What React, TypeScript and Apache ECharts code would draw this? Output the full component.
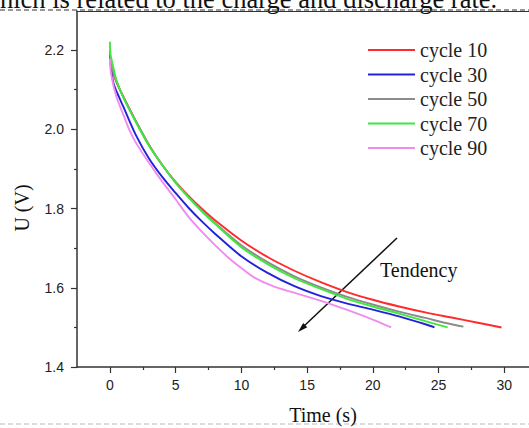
import React, { useEffect, useRef } from "react";
import * as echarts from "echarts";

const seriesNames = ["cycle 10", "cycle 30", "cycle 50", "cycle 70", "cycle 90"];
const seriesColors = ["#ff2a2a", "#2222dd", "#8c8c8c", "#3ee83e", "#f08cf0"];

const c10T = [0, 0.1, 0.5, 1, 2, 3, 4, 5, 6, 7, 8, 10, 12, 14, 16, 18, 20, 22, 24, 26, 28, 29.8];
const c10V = [2.19, 2.16, 2.12, 2.085, 2.02, 1.96, 1.91, 1.868, 1.832, 1.8, 1.771, 1.72, 1.678, 1.644, 1.615, 1.59, 1.57, 1.553, 1.538, 1.525, 1.512, 1.5];

const c30T = [0, 0.1, 0.3, 0.7, 1, 2, 3, 4, 5, 6, 7, 8, 10, 12, 14, 16, 18, 20, 22, 24, 24.7];
const c30V = [2.19, 2.15, 2.115, 2.082, 2.06, 1.985, 1.926, 1.88, 1.84, 1.802, 1.768, 1.737, 1.68, 1.638, 1.605, 1.58, 1.561, 1.545, 1.528, 1.508, 1.5];

const c50T = [0, 0.1, 0.5, 1, 2, 3, 4, 5, 6, 7, 8, 10, 12, 14, 16, 18, 20, 22, 24, 26, 26.9];
const c50V = [2.2, 2.165, 2.123, 2.085, 2.02, 1.96, 1.91, 1.866, 1.829, 1.795, 1.764, 1.708, 1.665, 1.63, 1.602, 1.578, 1.558, 1.54, 1.524, 1.508, 1.502];

const c70T = [0, 0.05, 0.2, 0.5, 1, 2, 3, 4, 5, 6, 7, 8, 10, 12, 14, 16, 18, 20, 22, 24, 25.7];
const c70V = [2.222, 2.19, 2.167, 2.125, 2.083, 2.018, 1.958, 1.91, 1.866, 1.828, 1.793, 1.762, 1.703, 1.66, 1.625, 1.598, 1.573, 1.553, 1.535, 1.516, 1.5];

const c90T = [0, 0.1, 0.5, 1, 1.5, 2, 3, 4, 5, 6, 7, 8, 9, 10, 11, 12.5, 14, 16, 18, 20, 21.4];
const c90V = [2.18, 2.14, 2.083, 2.04, 1.998, 1.966, 1.915, 1.868, 1.824, 1.779, 1.742, 1.708, 1.677, 1.65, 1.626, 1.603, 1.588, 1.568, 1.545, 1.52, 1.5];

const allT = [c10T, c30T, c50T, c70T, c90T];
const allV = [c10V, c30V, c50V, c70V, c90V];

const xTitle = "Time (s)";
const yTitle = "U (V)";
const annotation = "Tendency";
const captionText = "hich is related to the charge and discharge rate.";

const serif = "'Liberation Serif', 'Times New Roman', serif";
const sans = "'Liberation Sans', Arial, sans-serif";

export default function App() {
  const ref = useRef<HTMLDivElement>(null);
  useEffect(() => {
    if (!ref.current) return;
    const chart = echarts.init(ref.current, null, { renderer: "svg" });
    const axisColor = "#333";
    const hiddenAxis = {
      axisLine: { show: false }, axisTick: { show: false }, axisLabel: { show: false }, splitLine: { show: false },
    };
    const tickStyle = { color: axisColor, width: 1.2 };
    const xMin = -2.5;
    const xMax = xMin + 452 / (394.3 / 30);
    chart.setOption({
      animation: false,
      backgroundColor: "#fff",
      grid: [
        { left: 77, top: 11, right: 0, height: 356, show: false },
        { left: 110, top: 50, width: 394.3, height: 317, show: false },
        { left: 77, top: 50, width: 400, height: 317, show: false },
      ],
      xAxis: [
        {
          type: "value", gridIndex: 0, min: xMin, max: xMax, position: "bottom",
          axisLine: { show: true, onZero: false, lineStyle: { color: axisColor, width: 1.5 } },
          axisTick: { show: false }, axisLabel: { show: false }, splitLine: { show: false },
        },
        {
          type: "value", gridIndex: 0, min: xMin, max: xMax, position: "top",
          axisLine: { show: true, onZero: false, lineStyle: { color: axisColor, width: 1.2 } },
          axisTick: { show: false }, axisLabel: { show: false }, splitLine: { show: false },
        },
        {
          type: "value", gridIndex: 1, min: 0, max: 30, interval: 5,
          axisLine: { show: false, onZero: false },
          axisTick: { show: true, length: 6, lineStyle: tickStyle },
          minorTick: { show: true, splitNumber: 2, length: 3, lineStyle: tickStyle },
          axisLabel: { margin: 11, fontFamily: sans, fontSize: 14, color: "#222" },
          splitLine: { show: false },
        },
        { type: "value", gridIndex: 2, min: 0, max: 1, ...hiddenAxis },
      ],
      yAxis: [
        {
          type: "value", gridIndex: 0, min: 1.4, max: 2.3,
          axisLine: { show: true, onZero: false, lineStyle: { color: axisColor, width: 1.5 } },
          axisTick: { show: false }, axisLabel: { show: false }, splitLine: { show: false },
        },
        { type: "value", gridIndex: 1, min: 0, max: 1, ...hiddenAxis },
        {
          type: "value", gridIndex: 2, min: 1.4, max: 2.2, interval: 0.2,
          axisLine: { show: false, onZero: false },
          axisTick: { show: true, length: 6, lineStyle: tickStyle },
          minorTick: { show: true, splitNumber: 2, length: 3, lineStyle: tickStyle },
          axisLabel: { margin: 13, fontFamily: sans, fontSize: 14, color: "#222", formatter: (v: number) => v.toFixed(1) },
          splitLine: { show: false },
        },
      ],
      legend: {
        orient: "vertical", left: 368, top: 40, padding: 0, itemWidth: 47, itemHeight: 2, itemGap: 4.5,
        icon: "rect",
        textStyle: { fontFamily: serif, fontSize: 20, color: "#222" },
        data: seriesNames,
      },
      series: seriesNames.map((name, i) => ({
        name, type: "line", xAxisIndex: 0, yAxisIndex: 0,
        data: allT[i].map((t, j) => [t, allV[i][j]]),
        showSymbol: false, smooth: 0.3,
        lineStyle: { color: seriesColors[i], width: 1.9 },
        itemStyle: { color: seriesColors[i] },
      })),
      graphic: [
        { type: "text", left: 0, top: -15, style: { text: captionText, font: `26.5px ${serif}`, fill: "#111" } },
        { type: "line", shape: { x1: 0, y1: 10, x2: 529, y2: 10 }, style: { stroke: "#333", lineWidth: 1, lineDash: [5, 3] } },
        { type: "line", shape: { x1: 0, y1: 424, x2: 529, y2: 424 }, style: { stroke: "#bbb", lineWidth: 1, lineDash: [5, 3] } },
        { type: "text", x: 323, y: 415, style: { text: xTitle, font: `20px ${serif}`, fill: "#111", textAlign: "center", textVerticalAlign: "middle" } },
        { type: "text", x: 22, y: 208, rotation: Math.PI / 2, style: { text: yTitle, font: `20px ${serif}`, fill: "#111", textAlign: "center", textVerticalAlign: "middle" } },
        { type: "text", x: 380, y: 270, style: { text: annotation, font: `20px ${serif}`, fill: "#111", textAlign: "left", textVerticalAlign: "middle" } },
        { type: "line", shape: { x1: 397, y1: 238, x2: 303, y2: 327 }, style: { stroke: "#111", lineWidth: 1.5 } },
        { type: "polygon", shape: { points: [[298, 332], [307.3, 327.3], [303.2, 322.9]] }, style: { fill: "#111" } },
      ],
    });
    return () => chart.dispose();
  }, []);
  return <div ref={ref} style={{ position: "fixed", left: 0, top: 0, width: 529, height: 428 }} />;
}
